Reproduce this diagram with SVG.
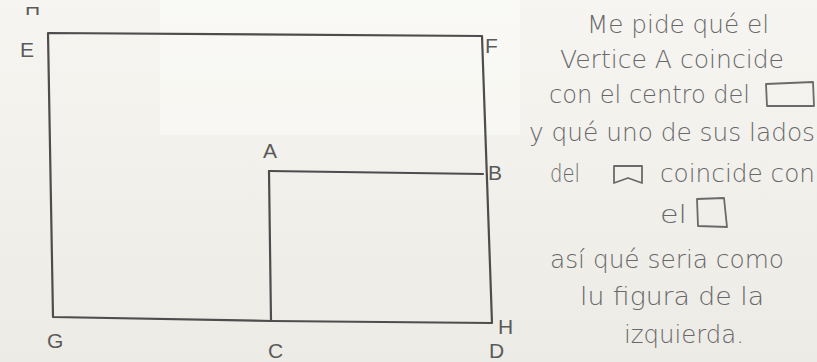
<svg xmlns="http://www.w3.org/2000/svg" width="817" height="362" viewBox="0 0 817 362">
<defs>
<style>
.ln{fill:none;stroke:#4d4d4d;stroke-width:2.2;stroke-linecap:round;stroke-linejoin:round}
.lbl{font-family:"Liberation Sans","DejaVu Sans",sans-serif;font-size:21px;fill:#5a5a5a;font-weight:300}
.tx{font-family:"DejaVu Sans","Liberation Sans",sans-serif;font-size:24px;fill:#686868;font-weight:200}
.sh{fill:none;stroke:#6a6a6a;stroke-width:1.8;stroke-linejoin:round}
</style>
<linearGradient id="bg" x1="0" y1="0" x2="0" y2="1">
<stop offset="0" stop-color="#f6f5f1"/>
<stop offset="1" stop-color="#ecebe6"/>
</linearGradient>
<clipPath id="topclip"><rect x="0" y="7" width="80" height="20"/></clipPath>
</defs>
<rect width="817" height="362" fill="url(#bg)"/>
<rect x="160" y="0" width="360" height="135" fill="#fbfbf8" opacity="0.55"/>

<g id="figure">
<path class="ln" d="M48,33 L482,36 L492,323 L272,321 L53,317 Z"/>
<path class="ln" d="M269,171 L483,174"/>
<path class="ln" d="M269,171 L271,321"/>
</g>

<g id="labels">
<text class="lbl" x="25" y="15" clip-path="url(#topclip)">H</text>
<text class="lbl" x="20" y="57">E</text>
<text class="lbl" x="485" y="53">F</text>
<text class="lbl" x="263" y="158">A</text>
<text class="lbl" x="488" y="180">B</text>
<text class="lbl" x="47" y="348">G</text>
<text class="lbl" x="268" y="358">C</text>
<text class="lbl" x="498" y="334">H</text>
<text class="lbl" x="489" y="358">D</text>
</g>

<g id="note">
<text class="tx" x="587" y="33" textLength="182" lengthAdjust="spacingAndGlyphs">Me pide qué el</text>
<text class="tx" x="560" y="68" textLength="224" lengthAdjust="spacingAndGlyphs">Vertice A coincide</text>
<text class="tx" x="549" y="103" textLength="201" lengthAdjust="spacingAndGlyphs">con el centro del</text>
<path class="sh" d="M766,84 L813,82 L814,106 L767,106 Z"/>
<text class="tx" x="529" y="141" textLength="286" lengthAdjust="spacingAndGlyphs">y qué uno de sus lados</text>
<text class="tx" x="550" y="182" textLength="30" lengthAdjust="spacingAndGlyphs">del</text>
<path class="sh" d="M614,166 L642,166 L642,183 L628,178 L614,183 Z"/>
<text class="tx" x="660" y="182" textLength="155" lengthAdjust="spacingAndGlyphs">coincide con</text>
<text class="tx" x="660" y="223" textLength="27" lengthAdjust="spacingAndGlyphs">el</text>
<path class="sh" d="M697,199 L724,198 L727,227 L698,226 Z"/>
<text class="tx" x="550" y="268" textLength="234" lengthAdjust="spacingAndGlyphs">así qué seria como</text>
<text class="tx" x="580" y="305" textLength="184" lengthAdjust="spacingAndGlyphs">lu figura de la</text>
<text class="tx" x="624" y="343" textLength="120" lengthAdjust="spacingAndGlyphs">izquierda.</text>
</g>
</svg>
